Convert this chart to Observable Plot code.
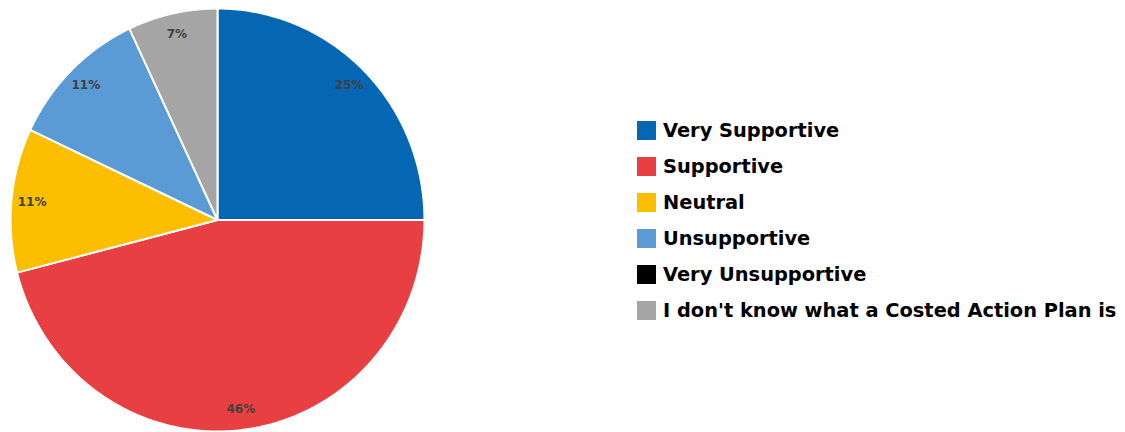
<!DOCTYPE html>
<html><head><meta charset="utf-8">
<script src="https://cdn.jsdelivr.net/npm/d3@7"></script>
<script src="https://cdn.jsdelivr.net/npm/@observablehq/plot@0.6"></script>
<style>
body{margin:0;background:#fff;}
#wrap{position:relative;width:1125px;height:432px;overflow:hidden;background:#fff;}
#pie{position:absolute;left:0;top:0;}
#legend{position:absolute;left:637px;top:112px;width:488px;}
#legend .lg-swatch{height:36px !important;padding:0 !important;margin:0 !important;display:flex !important;align-items:center !important;}
#legend .lg-swatch svg{margin-right:7px !important;flex-shrink:0;}
#legend, #legend *{font-family:"DejaVu Sans",sans-serif !important;font-weight:bold !important;font-size:19.4px !important;color:#000 !important;}
</style>
</head><body><div id="wrap"><div id="pie"></div><div id="legend"></div></div>
<script>
const categories = ["Very Supportive","Supportive","Neutral","Unsupportive","Very Unsupportive","I don't know what a Costed Action Plan is"];
const values = [25, 46, 11, 11, 0, 7];
const labels = ["25%", "46%", "11%", "11%", "", "7%"];
const colors = ["#0567B3", "#E84042", "#FCBF00", "#5B9BD5", "#000000", "#A5A5A5"];

const aspect = 1.022; // the reference pie is very slightly taller than wide
const total = d3.sum(values);
const features = [];
const labelData = [];
let acc = 0;
values.forEach((v, i) => {
  const a0 = acc / total * 2 * Math.PI;
  acc += v;
  const a1 = acc / total * 2 * Math.PI;
  if (v <= 0) return;
  const ring = [[0, 0]];
  const n = Math.max(2, Math.ceil((a1 - a0) / (Math.PI / 360)));
  for (let k = 0; k <= n; k++) {
    const t = a0 + (a1 - a0) * k / n;
    ring.push([Math.sin(t), -Math.cos(t) * aspect]);
  }
  ring.push([0, 0]);
  features.push({type: "Feature", properties: {name: categories[i]}, geometry: {type: "Polygon", coordinates: [ring]}});
  const m = (a0 + a1) / 2;
  const r = 0.9;
  labelData.push({x: r * Math.sin(m), y: -r * Math.cos(m) * aspect, label: labels[i]});
});

const domainBox = {type: "Polygon", coordinates: [[[-1, -aspect], [1, -aspect], [1, aspect], [-1, aspect], [-1, -aspect]]]};

const pie = Plot.plot({
  width: 440,
  height: 432,
  marginLeft: 10,
  marginRight: 16,
  marginTop: 8,
  marginBottom: 1,
  projection: {type: "identity", domain: domainBox},
  color: {domain: categories, range: colors},
  marks: [
    Plot.geo(features, {fill: d => d.properties.name, stroke: "white", strokeWidth: 2}),
    Plot.text(labelData, {x: "x", y: "y", text: "label", fill: "#404040", fontWeight: "bold", fontSize: 12, fontFamily: "DejaVu Sans"})
  ]
});
document.getElementById("pie").appendChild(pie);

const legend = Plot.legend({
  color: {type: "categorical", domain: categories, range: colors},
  legend: "swatches",
  columns: 1,
  swatchSize: 19,
  className: "lg"
});
document.getElementById("legend").appendChild(legend);
</script>
</body></html>
